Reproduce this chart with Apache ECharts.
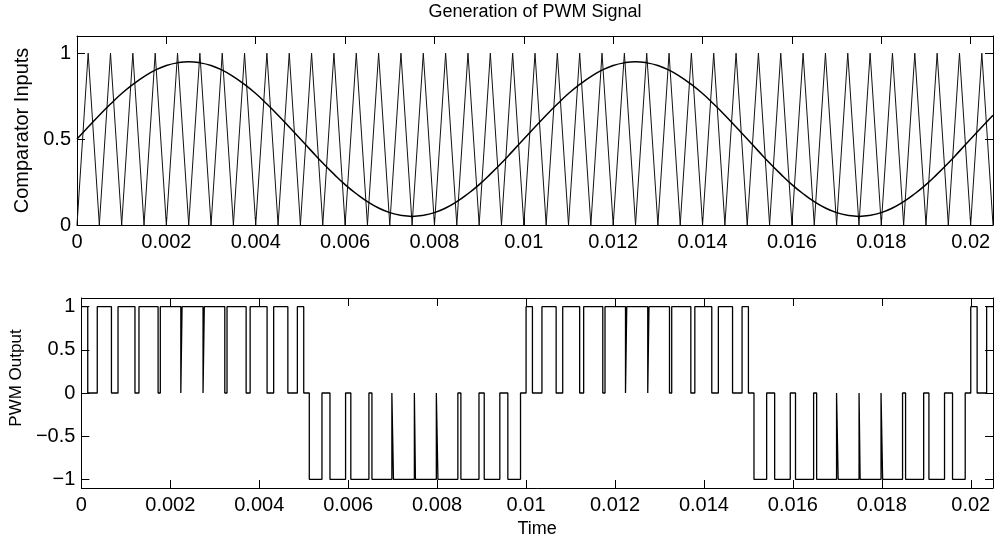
<!DOCTYPE html>
<html>
<head>
<meta charset="utf-8">
<script src="https://cdn.jsdelivr.net/npm/echarts@6/dist/echarts.min.js"></script>
<style>
html,body{margin:0;padding:0;background:#fff;}
#chart{width:1003px;height:545px;}
</style>
</head>
<body>
<div id="chart"></div>
<script>
// ---- data ----
const titleText = 'Generation of PWM Signal';
const topYName = 'Comparator Inputs';
const bottomYName = 'PWM Output';
const xName = 'Time';

const xTicks = [0, 0.002, 0.004, 0.006, 0.008, 0.01, 0.012, 0.014, 0.016, 0.018, 0.02];
const topYTicks = [0, 0.5, 1];
const bottomYTicks = [-1, -0.5, 0, 0.5, 1];

// sample instants (s) for the comparator inputs
const sampleTimes = [
  0, 0.00025, 0.0005, 0.00075, 0.001, 0.00125, 0.0015, 0.00175, 0.002, 0.00225,
  0.0025, 0.00275, 0.003, 0.00325, 0.0035, 0.00375, 0.004, 0.00425, 0.0045, 0.00475,
  0.005, 0.00525, 0.0055, 0.00575, 0.006, 0.00625, 0.0065, 0.00675, 0.007, 0.00725,
  0.0075, 0.00775, 0.008, 0.00825, 0.0085, 0.00875, 0.009, 0.00925, 0.0095, 0.00975,
  0.01, 0.01025, 0.0105, 0.01075, 0.011, 0.01125, 0.0115, 0.01175, 0.012, 0.01225,
  0.0125, 0.01275, 0.013, 0.01325, 0.0135, 0.01375, 0.014, 0.01425, 0.0145, 0.01475,
  0.015, 0.01525, 0.0155, 0.01575, 0.016, 0.01625, 0.0165, 0.01675, 0.017, 0.01725,
  0.0175, 0.01775, 0.018, 0.01825, 0.0185, 0.01875, 0.019, 0.01925, 0.0195, 0.01975,
  0.02, 0.02025, 0.0205
];

// triangular carrier at those instants
const carrierValues = [
  0,1,0,1,0,1,0,1,0,1, 0,1,0,1,0,1,0,1,0,1,
  0,1,0,1,0,1,0,1,0,1, 0,1,0,1,0,1,0,1,0,1,
  0,1,0,1,0,1,0,1,0,1, 0,1,0,1,0,1,0,1,0,1,
  0,1,0,1,0,1,0,1,0,1, 0,1,0,1,0,1,0,1,0,1,
  0,1,0
];

// reference (modulating) wave at those instants
const sineValues = [
  0.5,0.57,0.639,0.704,0.765,0.818,0.864,0.901,0.928,0.944,
  0.95,0.944,0.928,0.901,0.864,0.818,0.765,0.704,0.639,0.57,
  0.5,0.43,0.361,0.296,0.235,0.182,0.136,0.099,0.072,0.056,
  0.05,0.056,0.072,0.099,0.136,0.182,0.235,0.296,0.361,0.43,
  0.5,0.57,0.639,0.704,0.765,0.818,0.864,0.901,0.928,0.944,
  0.95,0.944,0.928,0.901,0.864,0.818,0.765,0.704,0.639,0.57,
  0.5,0.43,0.361,0.296,0.235,0.182,0.136,0.099,0.072,0.056,
  0.05,0.056,0.072,0.099,0.136,0.182,0.235,0.296,0.361,0.43,
  0.5,0.57,0.639
];

// PWM output: switching instants and the level that starts there
const pwmTimes = [
  0, 0.000143, 0.000357, 0.000676, 0.000824, 0.001205, 0.001295, 0.001725, 0.001775, 0.002236,
  0.002264, 0.002736, 0.002764, 0.003225, 0.003275, 0.003705, 0.003795, 0.004176, 0.004324, 0.004643,
  0.004857, 0.005, 0.005125, 0.00541, 0.00559, 0.005941, 0.006059, 0.006466, 0.006534, 0.006982,
  0.007018, 0.007488, 0.007512, 0.007982, 0.008018, 0.008466, 0.008534, 0.008941, 0.009059, 0.00941,
  0.00959, 0.009875, 0.01,
  0.010143, 0.010357, 0.010676, 0.010824, 0.011205, 0.011295, 0.011725, 0.011775, 0.012236,
  0.012264, 0.012736, 0.012764, 0.013225, 0.013275, 0.013705, 0.013795, 0.014176, 0.014324, 0.014643,
  0.014857, 0.015, 0.015125, 0.01541, 0.01559, 0.015941, 0.016059, 0.016466, 0.016534, 0.016982,
  0.017018, 0.017488, 0.017512, 0.017982, 0.018018, 0.018466, 0.018534, 0.018941, 0.019059, 0.01941,
  0.01959, 0.019875, 0.02, 0.020143, 0.020357, 0.0205
];
const pwmLevels = [
  1, 0, 1, 0, 1, 0, 1, 0, 1, 0,
  1, 0, 1, 0, 1, 0, 1, 0, 1, 0,
  1, 0, -1, 0, -1, 0, -1, 0, -1, 0,
  -1, 0, -1, 0, -1, 0, -1, 0, -1, 0,
  -1, 0, 1,
  0, 1, 0, 1, 0, 1, 0, 1, 0,
  1, 0, 1, 0, 1, 0, 1, 0, 1, 0,
  1, 0, -1, 0, -1, 0, -1, 0, -1, 0,
  -1, 0, -1, 0, -1, 0, -1, 0, -1, 0,
  -1, 0, 1, 0, 1, 1
];

// ---- chart ----
const FONT = "'Liberation Sans', Arial, Helvetica, sans-serif";
const X_MIN = 0, X_MAX = 0.0205;
const chart = echarts.init(document.getElementById('chart'), null, {renderer: 'canvas'});

const lineStyleAxis = {show: true, onZero: false, lineStyle: {color: '#000', width: 1}};
function tick(values) {
  return {show: true, inside: true, length: 8, customValues: values, lineStyle: {color: '#000', width: 1}};
}
const minus = v => String(v).replace('-', '\u2212');

function xAxisPair(grid, withName) {
  return [
    {
      type: 'value', gridIndex: grid, position: 'bottom', min: X_MIN, max: X_MAX,
      axisLine: lineStyleAxis, axisTick: tick(xTicks), splitLine: {show: false},
      axisLabel: {customValues: xTicks, color: '#000', fontFamily: FONT, fontSize: 20, margin: 7},
      name: withName ? xName : '', nameLocation: 'middle', nameGap: 32,
      nameTextStyle: {color: '#000', fontFamily: FONT, fontSize: 18}
    },
    {
      type: 'value', gridIndex: grid, position: 'top', min: X_MIN, max: X_MAX,
      axisLine: lineStyleAxis, axisTick: tick(xTicks), axisLabel: {show: false}, splitLine: {show: false}
    }
  ];
}
function yAxisPair(grid, min, max, ticks, name, nameGap, nameStyle) {
  return [
    {
      type: 'value', gridIndex: grid, position: 'left', min: min, max: max,
      axisLine: lineStyleAxis, axisTick: tick(ticks), splitLine: {show: false},
      axisLabel: {customValues: ticks, color: '#000', fontFamily: FONT, fontSize: 20, margin: 6, formatter: minus},
      name: name, nameLocation: 'middle', nameGap: nameGap,
      nameTextStyle: Object.assign({color: '#000', fontFamily: FONT}, nameStyle)
    },
    {
      type: 'value', gridIndex: grid, position: 'right', min: min, max: max,
      axisLine: lineStyleAxis, axisTick: tick(ticks), axisLabel: {show: false}, splitLine: {show: false}
    }
  ];
}

const zip = (a, b) => a.map((v, i) => [v, b[i]]);

chart.setOption({
  animation: false,
  backgroundColor: '#fff',
  title: {
    text: titleText, left: 535, top: 3, textAlign: 'center', padding: 0,
    textStyle: {color: '#000', fontFamily: FONT, fontSize: 18, fontWeight: 'normal'}
  },
  grid: [
    {left: 77, right: 10, top: 36, height: 189},
    {left: 77, right: 10, top: 298, height: 190}
  ],
  xAxis: [].concat(xAxisPair(0, false), xAxisPair(1, true)),
  yAxis: [].concat(
    yAxisPair(0, 0, 1.1, topYTicks, topYName, 45, {fontSize: 20}),
    yAxisPair(1, -1.1, 1.1, bottomYTicks, bottomYName, 56, {fontSize: 17, padding: [0, 0, 0, 30]})
  ),
  series: [
    {
      type: 'line', name: 'Carrier', xAxisIndex: 0, yAxisIndex: 0,
      data: zip(sampleTimes, carrierValues), symbol: 'none',
      lineStyle: {color: '#111', width: 1}
    },
    {
      type: 'line', name: 'Reference', xAxisIndex: 0, yAxisIndex: 0,
      data: zip(sampleTimes, sineValues), symbol: 'none', smooth: true,
      lineStyle: {color: '#000', width: 1.5}
    },
    {
      type: 'line', name: 'PWM', xAxisIndex: 2, yAxisIndex: 2,
      data: zip(pwmTimes, pwmLevels), symbol: 'none', step: 'end',
      lineStyle: {color: '#000', width: 1.3}
    }
  ]
});
</script>
</body>
</html>
